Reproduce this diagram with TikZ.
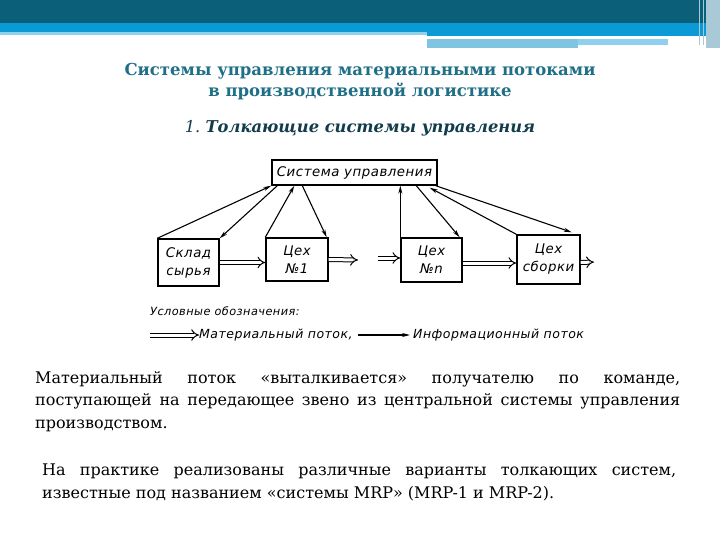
\documentclass[tikz,border=0pt]{standalone}
\usepackage{fontspec}
\setmainfont{DejaVu Serif}
\newfontfamily\handfont{DejaVu Sans}[LetterSpace=4]
\usepackage{xcolor}
\usetikzlibrary{arrows.meta,positioning,calc}

\definecolor{headdark}{HTML}{0B5F78}
\definecolor{headblue}{HTML}{0A9BD6}
\definecolor{headlight}{HTML}{8FD0EE}
\definecolor{headpale}{HTML}{7FC5E0}
\definecolor{headgrey}{HTML}{A9C9D6}
\definecolor{titleteal}{HTML}{1F6F87}
\definecolor{subteal}{HTML}{123C4C}

\begin{document}
\begin{tikzpicture}[
  x=1pt, y=-1pt,
  unit/.style={rectangle, draw=black, line width=1.4pt, inner sep=0pt, align=center, font=\handfont\itshape\fontsize{13.3}{18}\selectfont},
  info/.style={-{Stealth[length=8pt,width=4pt]}, line width=1.1pt},
  matflow/.style={double, double distance=3pt, line width=1pt, -{Implies}},
  hand/.style={font=\handfont\itshape\fontsize{12.5}{15}\selectfont, inner sep=0pt}
]
\useasboundingbox (0,0) rectangle (720,540);

% Header bar
\fill[headdark] (0,0) rectangle (720,23);
\fill[headblue] (0,23) rectangle (720,32);
\fill[headblue] (427,32) rectangle (720,36);
\fill[headlight] (0,32) rectangle (427,35);
\fill[headpale] (427,39) rectangle (578,48);
\fill[headlight] (578,39) rectangle (668,45);
\fill[headgrey] (706,0) rectangle (720,48);
\draw[headgrey, line width=1pt] (699,0) -- (699,45) (703,0) -- (703,45);

% Titles
\node[text=titleteal, align=center, font=\bfseries\fontsize{16.5}{21}\selectfont] (title) at (360,82)
  {Системы управления материальными потоками\\в производственной логистике};
\node[text=subteal, font=\fontsize{16.3}{18}\selectfont] (sub) at (360,128)
  {{\itshape 1.}~{\bfseries\itshape Толкающие системы управления}};

% Units
\node[unit, minimum width=165pt, minimum height=25pt] (ctrl) at (354.5,172.5) {Система управления};
\node[unit, minimum width=61pt, minimum height=47pt] (sklad) at (188.5,262.5) {Склад\\сырья};
\node[unit, minimum width=62pt, minimum height=43pt] (tseh1) at (297,259.5) {Цех\\№1};
\node[unit, minimum width=61pt, minimum height=44pt] (tsehn) at (431.5,260) {Цех\\№n};
\node[unit, minimum width=63pt, minimum height=49pt] (sborka) at (548.5,259.5) {Цех\\сборки};

% Information flow
\draw[info] (sklad.north west) -- (ctrl.south west);
\draw[info] ($(ctrl.south west)+(6,0)$) -- (sklad.north east);
\draw[info] (tseh1.north west) -- ($(ctrl.south west)+(23,0)$);
\draw[info] ($(ctrl.south west)+(31,0)$) -- ($(tseh1.north east)+(-2,0)$);
\draw[info] (tsehn.north west) -- (tsehn.north west |- ctrl.south);
\draw[info] ($(ctrl.south west)+(145,0)$) -- ($(tsehn.north east)+(-3,0)$);
\draw[info] (sborka.north west) -- ($(ctrl.south east)+(-8,2)$);
\draw[info] ($(ctrl.south east)+(-2,0)$) -- ($(sborka.north east)+(-9,-2)$);

% Material flow
\coordinate (m1) at (358,260);
\coordinate (m2) at (378,258);
\coordinate (m3) at (594,262);
\draw[matflow] (sklad.east) -- (sklad.east -| tseh1.west);
\draw[matflow] (tseh1.east) -- (m1);
\draw[matflow] (m2) -- (m2 -| tsehn.west);
\draw[matflow] ($(tsehn.east)+(0,3)$) -- ($(tsehn.east -| sborka.west)+(0,3)$);
\draw[matflow] ($(sborka.east)+(0,3)$) -- (m3);

% Legend
\node[hand, anchor=west, font=\handfont\itshape\fontsize{11.3}{14}\selectfont] (legend) at (150,311) {Условные обозначения:};
\coordinate (lg) at (150,335);
\node[hand, anchor=west] (matl) at (199,335) {Материальный поток,};
\node[hand, anchor=west] (infl) at (413,335) {Информационный поток};
\draw[matflow] (lg) -- (matl.west);
\draw[info] ($(matl.east)+(5,0)$) -- ($(infl.west)+(-3,0)$);

% Text
\node[anchor=north west, inner sep=0pt, text width=645pt, align=justify,
  font=\fontsize{16}{22.5}\selectfont] (para1) at (35,371)
  {Материальный поток «выталкивается» получателю по команде,\linebreak
   поступающей на передающее звено из центральной системы управления\linebreak
   производством.};
\node[anchor=north west, inner sep=0pt, text width=634pt, align=justify,
  font=\fontsize{16}{22.5}\selectfont] (para2) at (42,464)
  {На практике реализованы различные варианты толкающих систем,\linebreak
   известные под названием «системы MRP» (MRP-1 и MRP-2).};

\end{tikzpicture}
\end{document}
